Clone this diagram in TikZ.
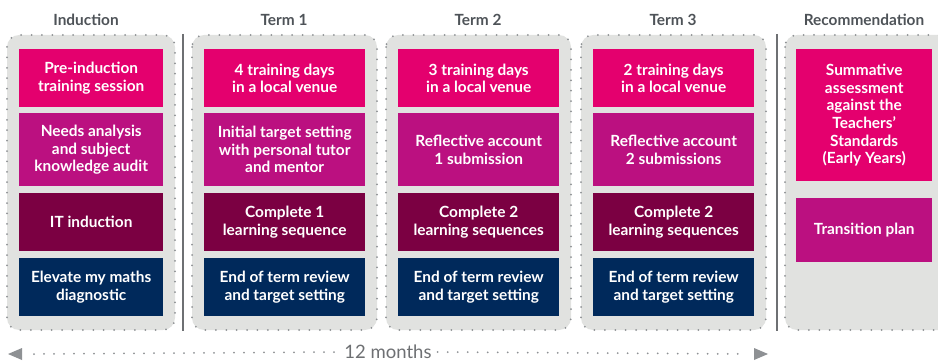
\documentclass[tikz,border=0pt]{standalone}
\usepackage{fontspec}
\setmainfont{Lato}
\definecolor{cpink}{HTML}{E4006E}
\definecolor{cmag}{HTML}{BB1080}
\definecolor{cmar}{HTML}{7B0042}
\definecolor{cnavy}{HTML}{00295B}
\definecolor{cpanel}{HTML}{E1E2E0}
\definecolor{cdot}{HTML}{8E9194}
\definecolor{chead}{HTML}{4E5358}
\definecolor{csep}{HTML}{6E7073}
\begin{document}
\begin{tikzpicture}[x=1pt,y=-1pt,
  panel/.style={fill=cpanel, draw=cdot, line width=2pt, dash pattern=on 0pt off 10.4pt, line cap=round, rounded corners=12pt},
  card/.style={anchor=north west, inner sep=0pt, text=white, font=\fontsize{15.4}{17.6}\selectfont\bfseries, align=center},
  wi/.style={minimum width=144pt}, wt/.style={minimum width=161pt}, wr/.style={minimum width=136pt},
  hs/.style={minimum height=58pt}, hl/.style={minimum height=73pt},
  head/.style={font=\fontsize{15.4}{17.6}\selectfont\bfseries, text=chead},
  sepline/.style={draw=csep, line width=1.2pt},
  dotline/.style={draw=cdot, line width=2pt, dash pattern=on 0pt off 10pt, line cap=round},
]
\useasboundingbox (0,0) rectangle (938,361);
\clip (0,0) rectangle (938,361);
% headings
\node[head] (hi) at (86,20) {Induction};
\node[head] (h1) at (284,20) {Term 1};
\node[head] (h2) at (478,20) {Term 2};
\node[head] (h3) at (673,20) {Term 3};
\node[head] (hr) at (864,20) {Recommendation};
% panels
\draw[panel] (7,35) rectangle (175,330);
\draw[panel] (192,35) rectangle (377,330);
\draw[panel] (386,35) rectangle (571,330);
\draw[panel] (581,35) rectangle (766,330);
\draw[panel] (785,35) rectangle (950,330);
% separators
\coordinate (s1t) at (183,34); \coordinate (s1b) at (183,331);
\coordinate (s2t) at (777,34); \coordinate (s2b) at (777,331);
\draw[sepline] (s1t) -- (s1b);
\draw[sepline] (s2t) -- (s2b);
% induction
\node[card, wi, hs, fill=cpink] (i1) at (19,49) {Pre-induction\\training session};
\node[card, wi, hl, fill=cmag] (i2) at (19,113) {Needs analysis\\and subject\\knowledge audit};
\node[card, wi, hs, fill=cmar] (i3) at (19,193) {IT induction};
\node[card, wi, hs, fill=cnavy] (i4) at (19,258) {Elevate my maths\\diagnostic};
% term 1
\node[card, wt, hs, fill=cpink] (a1) at (204,49) {4 training days\\in a local venue};
\node[card, wt, hl, fill=cmag] (a2) at (204,113) {Initial target setting\\with personal tutor\\and mentor};
\node[card, wt, hs, fill=cmar] (a3) at (204,193) {Complete 1\\learning sequence};
\node[card, wt, hs, fill=cnavy] (a4) at (204,258) {End of term review\\and target setting};
% term 2
\node[card, wt, hs, fill=cpink] (b1) at (398,49) {3 training days\\in a local venue};
\node[card, wt, hl, fill=cmag] (b2) at (398,113) {Reflective account\\1 submission};
\node[card, wt, hs, fill=cmar] (b3) at (398,193) {Complete 2\\learning sequences};
\node[card, wt, hs, fill=cnavy] (b4) at (398,258) {End of term review\\and target setting};
% term 3
\node[card, wt, hs, fill=cpink] (c1) at (593,49) {2 training days\\in a local venue};
\node[card, wt, hl, fill=cmag] (c2) at (593,113) {Reflective account\\2 submissions};
\node[card, wt, hs, fill=cmar] (c3) at (593,193) {Complete 2\\learning sequences};
\node[card, wt, hs, fill=cnavy] (c4) at (593,258) {End of term review\\and target setting};
% recommendation
\node[card, wr, minimum height=132pt, fill=cpink] (r1) at (796,49) {Summative\\assessment\\against the\\Teachers'\\Standards\\(Early Years)};
\node[card, wr, minimum height=64pt, fill=cmag] (r2) at (796,198) {Transition plan};
% timeline
\coordinate (tl) at (8,354);
\coordinate (tr) at (768,354);
\node[font=\fontsize{18.5}{20}\selectfont, text=csep, fill=white, inner sep=6pt] (tm) at (388,352) {12 months};
\fill[cdot] (tl) -- ++(14,-6) -- ++(0,12) -- cycle;
\fill[cdot] (tr) -- ++(-14,-6) -- ++(0,12) -- cycle;
\draw[dotline] ([xshift=26pt]tl) -- (tm.west);
\draw[dotline] (tm.east) -- ([xshift=-22pt]tr);
\end{tikzpicture}
\end{document}
